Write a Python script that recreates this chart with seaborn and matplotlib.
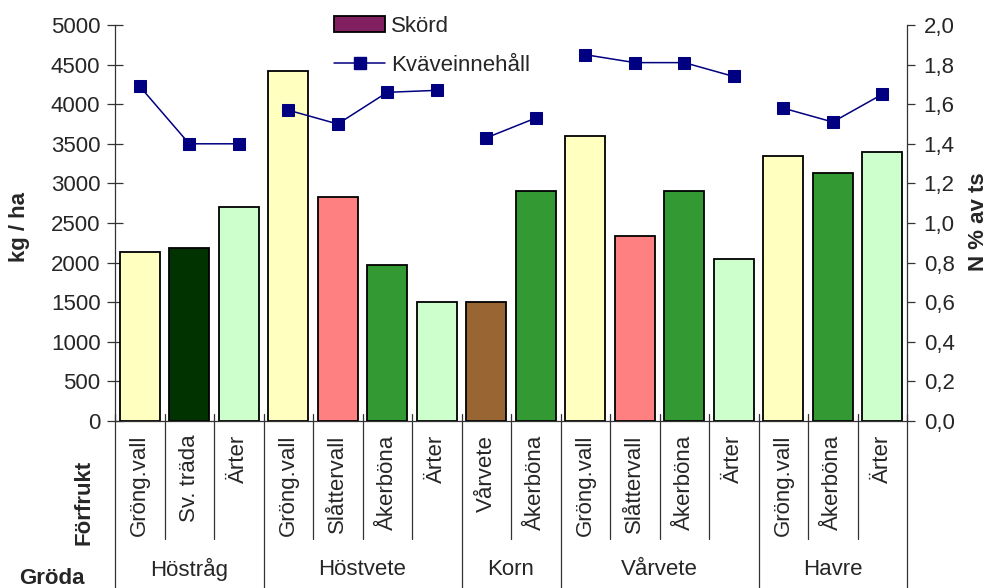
import numpy as np
import pandas as pd
import matplotlib
matplotlib.use("Agg")
import matplotlib.pyplot as plt
from matplotlib.patches import Patch
from matplotlib.lines import Line2D
from matplotlib.ticker import FuncFormatter, MultipleLocator
import seaborn as sns

# Crop (Gröda), preceding crop (Förfrukt), yield and nitrogen content
groda = ["Höstråg"] * 3 + ["Höstvete"] * 4 + ["Korn"] * 2 + ["Vårvete"] * 4 + ["Havre"] * 3
forfrukt = ["Gröng.vall", "Sv. träda", "Ärter",
            "Gröng.vall", "Slåttervall", "Åkerböna", "Ärter",
            "Vårvete", "Åkerböna",
            "Gröng.vall", "Slåttervall", "Åkerböna", "Ärter",
            "Gröng.vall", "Åkerböna", "Ärter"]
skord = [2130, 2180, 2700, 4420, 2830, 1970, 1500, 1500, 2900,
         3600, 2330, 2900, 2040, 3350, 3130, 3400]
kvave = [1.69, 1.40, 1.40, 1.57, 1.50, 1.66, 1.67, 1.43, 1.53,
         1.85, 1.81, 1.81, 1.74, 1.58, 1.51, 1.65]

forfrukt_colors = {
    "Gröng.vall": "#FFFFC0",
    "Sv. träda": "#003300",
    "Ärter": "#CCFFCC",
    "Slåttervall": "#FF8080",
    "Åkerböna": "#339933",
    "Vårvete": "#996633",
}
LINE_COLOR = "#000080"
LEGEND_BAR_COLOR = "#802060"

df = pd.DataFrame({"Gröda": groda, "Förfrukt": forfrukt,
                   "Skörd": skord, "Kväve": kvave})
df["pos"] = np.arange(len(df))

sns.set_style("ticks")
plt.rcParams["font.family"] = ["Liberation Sans", "DejaVu Sans"]
FS = 16

W, H = 989, 588
fig = plt.figure(figsize=(W / 100, H / 100), dpi=100)
ax = fig.add_axes([115 / W, 1 - 421 / H, 792 / W, 396 / H])

sns.barplot(data=df, x="pos", y="Skörd", hue="Förfrukt", palette=forfrukt_colors,
            dodge=False, width=0.8, saturation=1, edgecolor="black",
            linewidth=1.3, legend=False, ax=ax)

ax2 = ax.twinx()
sns.lineplot(data=df, x="pos", y="Kväve", units="Gröda", estimator=None,
             sort=False, color=LINE_COLOR, marker="s", markersize=8.5,
             markeredgecolor=LINE_COLOR, linewidth=1.1, legend=False, ax=ax2)

n = len(df)
ax.set_xlim(-0.5, n - 0.5)
ax.set_ylim(0, 5000)
ax2.set_ylim(0, 2.0)
ax.yaxis.set_major_locator(MultipleLocator(500))
ax2.yaxis.set_major_locator(MultipleLocator(0.2))
ax2.yaxis.set_major_formatter(FuncFormatter(lambda v, p: f"{v:.1f}".replace(".", ",")))
ax.set_xticks([])
ax2.set_xticks([])
for a in (ax, ax2):
    a.set_xlabel("")
    a.set_ylabel("")
    a.spines["top"].set_visible(False)
    a.set_facecolor("none")
ax.spines["right"].set_visible(False)
ax2.spines["left"].set_visible(False)
ax2.spines["bottom"].set_visible(False)
for s in ("left", "bottom"):
    ax.spines[s].set_linewidth(0.9)
    ax.spines[s].set_color("#333333")
ax2.spines["right"].set_linewidth(0.9)
ax2.spines["right"].set_color("#333333")

ax.tick_params(axis="y", direction="inout", length=11, width=0.9,
               labelsize=FS, pad=5, color="#333333")
ax2.tick_params(axis="y", direction="out", length=6, width=0.9,
                labelsize=FS, pad=6, color="#333333")

# Two-level category axis drawn below the bars
trans = ax.get_xaxis_transform()
for i, label in enumerate(df["Förfrukt"]):
    ax.text(i, -0.035, label, rotation=90, ha="center", va="top",
            fontsize=FS, transform=trans)

group_bounds = [0]
for i in range(1, n):
    if df["Gröda"][i] != df["Gröda"][i - 1]:
        group_bounds.append(i)
group_bounds.append(n)

for b in range(n + 1):
    y_low = -0.4217 if b in group_bounds else -0.298
    ax.plot([b - 0.5, b - 0.5], [0.018, y_low], color="#333333", lw=0.9,
            transform=trans, clip_on=False)

for s, e in zip(group_bounds[:-1], group_bounds[1:]):
    ax.text((s + e - 1) / 2, -0.376, df["Gröda"][s], ha="center", va="center",
            fontsize=FS, transform=trans)

fig.text(20 / W, 1 - 227 / H, "kg / ha", rotation=90, ha="center", va="center",
         fontsize=FS, fontweight="bold")
fig.text(978 / W, 1 - 222 / H, "N % av ts", rotation=90, ha="center", va="center",
         fontsize=FS, fontweight="bold")
fig.text(84 / W, 1 - 502 / H, "Förfrukt", rotation=90, ha="center", va="center",
         fontsize=FS, fontweight="bold")
fig.text(52 / W, 1 - 578 / H, "Gröda", ha="center", va="center",
         fontsize=FS, fontweight="bold")

handles = [Patch(facecolor=LEGEND_BAR_COLOR, edgecolor="black", linewidth=1.3),
           Line2D([], [], color=LINE_COLOR, marker="s", markersize=8.5,
                  markeredgecolor=LINE_COLOR, linewidth=1.1)]
fig.legend(handles, ["Skörd", "Kväveinnehåll"], loc="upper left",
           bbox_to_anchor=(334 / W, 1 - 16 / H), frameon=False, borderpad=0,
           borderaxespad=0, handlelength=2.3, handletextpad=0.25,
           labelspacing=0.8, fontsize=FS)

fig.savefig("out.png", dpi=100)
